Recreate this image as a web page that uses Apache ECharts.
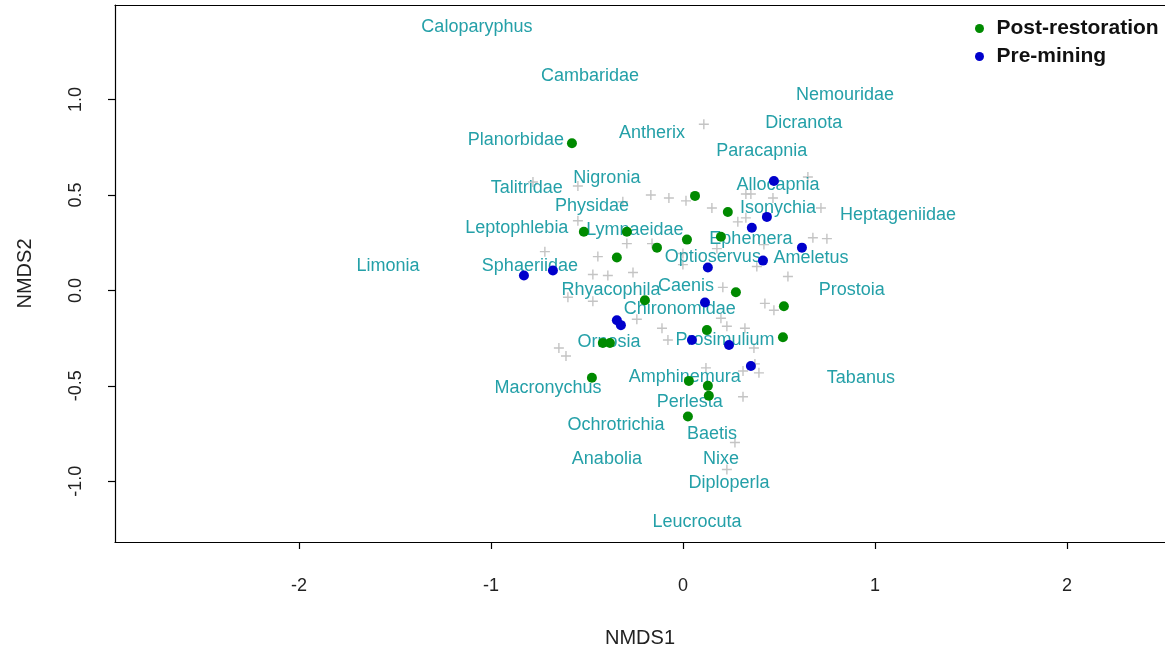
<!DOCTYPE html>
<html><head><meta charset="utf-8">
<script src="https://cdn.jsdelivr.net/npm/echarts@6/dist/echarts.min.js"></script>
<style>html,body{margin:0;padding:0;background:#fff}#c{width:1165px;height:653px}</style>
</head><body><div id="c"></div>
<script>
const xTicks = [-2, -1, 0, 1, 2];
const yTicks = [-1, -0.5, 0, 0.5, 1];

const speciesNames = ["Caloparyphus","Cambaridae","Nemouridae","Dicranota","Planorbidae","Antherix","Paracapnia","Nigronia","Allocapnia","Talitridae","Physidae","Isonychia","Heptageniidae","Leptophlebia","Lymnaeidae","Ephemera","Limonia","Sphaeriidae","Optioservus","Ameletus","Rhyacophila","Caenis","Prostoia","Chironomidae","Ornosia","Prosimulium","Tabanus","Macronychus","Amphinemura","Perlesta","Ochrotrichia","Baetis","Anabolia","Nixe","Diploperla","Leucrocuta"];
const speciesX = [-1.073,-0.484,0.844,0.630,-0.870,-0.161,0.411,-0.396,0.495,-0.813,-0.474,0.495,1.120,-0.865,-0.250,0.354,-1.536,-0.797,0.156,0.667,-0.375,0.016,0.880,-0.016,-0.385,0.219,0.927,-0.703,0.010,0.036,-0.349,0.151,-0.396,0.198,0.240,0.073];
const speciesY = [1.380,1.125,1.021,0.875,0.786,0.823,0.729,0.589,0.552,0.536,0.443,0.432,0.396,0.328,0.318,0.271,0.130,0.130,0.177,0.172,0.000,0.021,0.000,-0.099,-0.271,-0.260,-0.458,-0.510,-0.453,-0.583,-0.703,-0.755,-0.885,-0.885,-1.010,-1.214];

// unlabelled species (+)
const plusX = [-0.781,-0.547,-0.313,-0.547,-0.719,-0.443,-0.292,-0.161,-0.469,-0.391,-0.260,-0.599,-0.469,0.000,0.109,-0.167,-0.073,0.016,0.151,0.328,0.354,0.469,0.651,0.719,0.286,0.328,0.677,0.750,0.177,0.422,0.000,0.385,0.547,0.208,0.427,0.474,0.198,0.229,0.323,-0.240,-0.109,-0.078,-0.646,-0.609,0.370,0.120,0.313,0.375,0.396,0.313,0.271,0.229];
const plusY = [0.568,0.547,0.464,0.365,0.203,0.177,0.245,0.245,0.083,0.078,0.094,-0.036,-0.057,0.193,0.870,0.500,0.484,0.469,0.432,0.505,0.505,0.484,0.594,0.432,0.359,0.380,0.276,0.271,0.219,0.240,0.135,0.125,0.073,0.016,-0.068,-0.104,-0.146,-0.188,-0.198,-0.151,-0.198,-0.260,-0.302,-0.344,-0.302,-0.406,-0.422,-0.385,-0.432,-0.557,-0.797,-0.938];

const postX = [-0.578,0.063,0.234,-0.516,-0.292,0.021,0.198,-0.135,-0.344,0.276,-0.198,0.526,0.125,0.521,-0.417,-0.380,-0.474,0.031,0.130,0.135,0.026];
const postY = [0.771,0.495,0.411,0.307,0.307,0.266,0.281,0.224,0.172,-0.010,-0.052,-0.083,-0.208,-0.245,-0.276,-0.276,-0.458,-0.474,-0.500,-0.552,-0.661];

const preX = [-0.828,-0.677,0.474,0.4375,0.359,0.620,0.417,0.130,-0.344,-0.323,0.115,0.047,0.240,0.354];
const preY = [0.078,0.104,0.573,0.385,0.328,0.224,0.156,0.120,-0.156,-0.182,-0.063,-0.260,-0.286,-0.396];

const zip = (a, b) => a.map((v, i) => [v, b[i]]);
const FONT = "Liberation Sans, Arial, sans-serif";
const XMIN = -2.958, XMAX = 2.511;
const boxLine = {show: true, onZero: false, lineStyle: {color: '#000', width: 1.2}};

const chart = echarts.init(document.getElementById('c'), null, {renderer: 'canvas'});
chart.setOption({
  animation: false,
  backgroundColor: '#ffffff',
  grid: {left: 115, top: 5, right: 0, bottom: 108, show: false},
  xAxis: [{
    type: 'value', min: XMIN, max: XMAX, position: 'bottom',
    name: 'NMDS1', nameLocation: 'middle', nameGap: 86,
    nameTextStyle: {fontFamily: FONT, fontSize: 20, color: '#222'},
    axisLine: boxLine,
    splitLine: {show: false},
    axisTick: {show: true, length: 7, inside: false, customValues: xTicks, lineStyle: {color: '#000', width: 1.2}},
    axisLabel: {customValues: xTicks, margin: 35, fontFamily: FONT, fontSize: 18, color: '#222', formatter: v => String(v)}
  }, {
    type: 'value', min: XMIN, max: XMAX, position: 'top',
    axisLine: boxLine, axisTick: {show: false}, axisLabel: {show: false}, splitLine: {show: false}
  }],
  yAxis: {
    type: 'value', min: -1.318, max: 1.495,
    name: 'NMDS2', nameLocation: 'middle', nameGap: 80, nameRotate: 90,
    nameTextStyle: {fontFamily: FONT, fontSize: 20, color: '#222'},
    axisLine: boxLine,
    splitLine: {show: false},
    axisTick: {show: true, length: 7, customValues: yTicks, lineStyle: {color: '#000', width: 1.2}},
    axisLabel: {customValues: yTicks, rotate: 90, margin: 30, fontFamily: FONT, fontSize: 18, color: '#222', formatter: v => v.toFixed(1)}
  },
  legend: {
    orient: 'vertical', left: 970, top: 13, itemGap: 7,
    icon: 'circle', itemWidth: 24, itemHeight: 9,
    textStyle: {fontFamily: FONT, fontSize: 21, fontWeight: 'bold', color: '#111'},
    data: ['Post-restoration', 'Pre-mining']
  },
  series: [
    {
      name: 'unlabelled', type: 'scatter', z: 1, silent: true,
      symbol: 'path://M4.3,0 L5.7,0 L5.7,4.3 L10,4.3 L10,5.7 L5.7,5.7 L5.7,10 L4.3,10 L4.3,5.7 L0,5.7 L0,4.3 L4.3,4.3 Z',
      symbolSize: 10, itemStyle: {color: '#c4c4c4', opacity: 1},
      data: zip(plusX, plusY)
    },
    {
      name: 'species', type: 'scatter', z: 2, silent: true,
      symbolSize: 0, itemStyle: {opacity: 1},
      label: {show: true, position: 'inside', formatter: p => p.name, fontFamily: FONT, fontSize: 18, color: '#24a0a8'},
      data: speciesNames.map((n, i) => ({name: n, value: [speciesX[i], speciesY[i]]}))
    },
    {
      name: 'Post-restoration', type: 'scatter', z: 3, symbol: 'circle', symbolSize: 10,
      itemStyle: {color: '#008a00', opacity: 1},
      data: zip(postX, postY)
    },
    {
      name: 'Pre-mining', type: 'scatter', z: 3, symbol: 'circle', symbolSize: 10,
      itemStyle: {color: '#0000cc', opacity: 1},
      data: zip(preX, preY)
    }
  ]
});
</script>
</body></html>
